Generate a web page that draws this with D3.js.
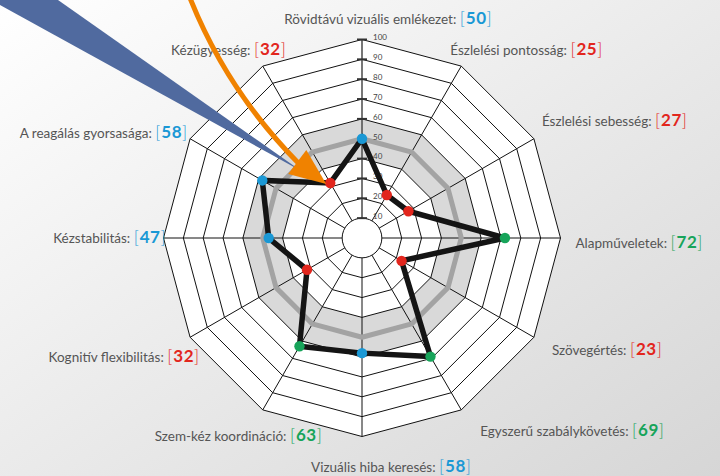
<!DOCTYPE html>
<html>
<head>
<meta charset="utf-8">
<script src="https://cdn.jsdelivr.net/npm/d3@7"></script>
<style>
  html, body { margin: 0; padding: 0; }
  svg { display: block; }
  text { font-family: Lato, "Open Sans", sans-serif; }
</style>
</head>
<body>
<div id="chart"></div>
<script>
var width = 720, height = 476;
var cx = 362, cy = 238, outerR = 198.5;

// data
var skills = ["Rövidtávú vizuális emlékezet", "Észlelési pontosság", "Észlelési sebesség",
              "Alapműveletek", "Szövegértés", "Egyszerű szabálykövetés", "Vizuális hiba keresés",
              "Szem-kéz koordináció", "Kognitív flexibilitás", "Kézstabilitás",
              "A reagálás gyorsasága", "Kézügyesség"];
var scores = [50, 25, 27, 72, 23, 69, 58, 63, 32, 47, 58, 32];
var ringTicks = [10, 20, 30, 40, 50, 60, 70, 80, 90, 100];
var bandRange = [40, 60];
var average = 50;

// label placement: offset from outer vertex, text anchor
var labelLayout = [
  [26, -16, "middle"], [-11, -11, "start"], [8, -13, "start"], [15, 10, "start"],
  [18, 18, "start"], [19, 26, "start"], [29, 35, "middle"], [59, 31, "end"],
  [9, 25, "end"], [2, 5, "end"], [-3, -1, "end"], [23, -11, "end"]
];

var n = skills.length;
var step = 2 * Math.PI / n;
var r = d3.scaleLinear().domain([0, 100]).range([0, outerR]);

var color = function(v) {
  if (v < 40) return "#e2261d";
  if (v <= 60) return "#1a98d5";
  return "#17a45a";
};

function pos(i, v) {
  var a = i * step;
  return [cx + r(v) * Math.sin(a), cy - r(v) * Math.cos(a)];
}

var svg = d3.select("#chart").append("svg")
    .attr("width", width)
    .attr("height", height);

var defs = svg.append("defs");
var grad = defs.append("linearGradient")
    .attr("id", "bg")
    .attr("x1", "0%").attr("y1", "0%").attr("x2", "100%").attr("y2", "100%");
grad.append("stop").attr("offset", "0%").attr("stop-color", "#ffffff");
grad.append("stop").attr("offset", "100%").attr("stop-color", "#d6d6d6");

svg.append("rect")
    .attr("width", width).attr("height", height)
    .attr("fill", "url(#bg)");

var g = svg.append("g").attr("transform", "translate(" + cx + "," + cy + ")");

var ring = function(v) {
  return d3.lineRadial()
      .angle(function(d, i) { return i * step; })
      .radius(function() { return r(v); })
      .curve(d3.curveLinearClosed)(skills);
};

// white chart face
g.append("path")
    .attr("d", ring(100))
    .attr("fill", "#ffffff");

// grey band
g.append("path")
    .attr("d", ring(bandRange[1]) + ring(bandRange[0]))
    .attr("fill", "#d9d9d9")
    .attr("fill-rule", "evenodd");

// spokes
g.selectAll(".spoke")
    .data(skills)
    .enter().append("line")
    .attr("class", "spoke")
    .attr("x1", function(d, i) { return r(10) * Math.sin(i * step); })
    .attr("y1", function(d, i) { return -r(10) * Math.cos(i * step); })
    .attr("x2", function(d, i) { return r(100) * Math.sin(i * step); })
    .attr("y2", function(d, i) { return -r(100) * Math.cos(i * step); })
    .attr("stroke", function(d, i) { return i === 0 ? "#555" : "#111"; })
    .attr("stroke-width", function(d, i) { return i === 0 ? 1.6 : 1; });

// rings
g.selectAll(".ring")
    .data(ringTicks.slice(1))
    .enter().append("path")
    .attr("class", "ring")
    .attr("d", function(d) { return ring(d); })
    .attr("fill", "none")
    .attr("stroke", "#111")
    .attr("stroke-width", 1);

g.append("circle")
    .attr("r", r(10))
    .attr("fill", "#fff")
    .attr("stroke", "#111")
    .attr("stroke-width", 1);

// average line
g.append("path")
    .attr("d", ring(average))
    .attr("fill", "none")
    .attr("stroke", "#a3a3a3")
    .attr("stroke-width", 5)
    .attr("stroke-linejoin", "round");

// tick marks and labels on the top axis
g.selectAll(".tick")
    .data(ringTicks)
    .enter().append("line")
    .attr("class", "tick")
    .attr("x1", -5).attr("x2", 5)
    .attr("y1", function(d) { return -r(d); })
    .attr("y2", function(d) { return -r(d); })
    .attr("stroke", "#333")
    .attr("stroke-width", 2);

g.selectAll(".tickLabel")
    .data(ringTicks)
    .enter().append("text")
    .attr("class", "tickLabel")
    .attr("x", 11)
    .attr("y", function(d) { return -r(d); })
    .attr("dy", "0.1em")
    .attr("font-size", 8)
    .attr("fill", "#444")
    .text(function(d) { return d; });

// data line
var line = d3.lineRadial()
    .angle(function(d, i) { return i * step; })
    .radius(function(d) { return r(d); })
    .curve(d3.curveLinearClosed);

g.append("path")
    .attr("d", line(scores))
    .attr("fill", "none")
    .attr("stroke", "#141414")
    .attr("stroke-width", 5.5)
    .attr("stroke-linejoin", "miter");

g.selectAll(".dot")
    .data(scores)
    .enter().append("circle")
    .attr("class", "dot")
    .attr("cx", function(d, i) { return r(d) * Math.sin(i * step); })
    .attr("cy", function(d, i) { return -r(d) * Math.cos(i * step); })
    .attr("r", 5.2)
    .attr("fill", color);

// labels
var labels = svg.selectAll(".label")
    .data(skills)
    .enter().append("text")
    .attr("class", "label")
    .attr("x", function(d, i) { return pos(i, 100)[0] + labelLayout[i][0]; })
    .attr("y", function(d, i) { return pos(i, 100)[1] + labelLayout[i][1]; })
    .attr("text-anchor", function(d, i) { return labelLayout[i][2]; });

labels.append("tspan")
    .attr("font-size", 13.5)
    .attr("fill", "#555")
    .text(function(d) { return d + ": "; });

labels.append("tspan")
    .attr("font-size", 17)
    .attr("font-weight", 300)
    .attr("letter-spacing", 1)
    .attr("fill", function(d, i) { return color(scores[i]); })
    .text("[");

labels.append("tspan")
    .attr("font-size", 17)
    .attr("font-weight", 700)
    .attr("letter-spacing", 0.5)
    .attr("fill", function(d, i) { return color(scores[i]); })
    .text(function(d, i) { return scores[i]; });

labels.append("tspan")
    .attr("font-size", 17)
    .attr("font-weight", 300)
    .attr("fill", function(d, i) { return color(scores[i]); })
    .text("]");

// pointer arrows to the "Kézügyesség" point
var target = pos(11, scores[11]);

var blueTip = [target[0] - 29, target[1] - 12];
svg.append("path")
    .attr("d", "M0,5 L0,0 L58,0 L" + blueTip[0] + "," + blueTip[1] + " Z")
    .attr("fill", "#506a9f");

var tip = [target[0] - 4, target[1] + 1];
var base = [target[0] - 33, target[1] - 21];
var curve = d3.path();
curve.moveTo(190, -2);
curve.quadraticCurveTo(227, 91, base[0] + 2, base[1] + 2);
svg.append("path")
    .attr("d", curve.toString())
    .attr("fill", "none")
    .attr("stroke", "#f08200")
    .attr("stroke-width", 5);

var dx = tip[0] - base[0], dy = tip[1] - base[1];
var len = Math.sqrt(dx * dx + dy * dy);
var ux = dx / len, uy = dy / len, hw = 15;
svg.append("path")
    .attr("d", "M" + tip[0] + "," + tip[1] +
               " L" + (base[0] - uy * hw) + "," + (base[1] + ux * hw) +
               " L" + (base[0] + uy * hw) + "," + (base[1] - ux * hw) + " Z")
    .attr("fill", "#f08200");
</script>
</body>
</html>
